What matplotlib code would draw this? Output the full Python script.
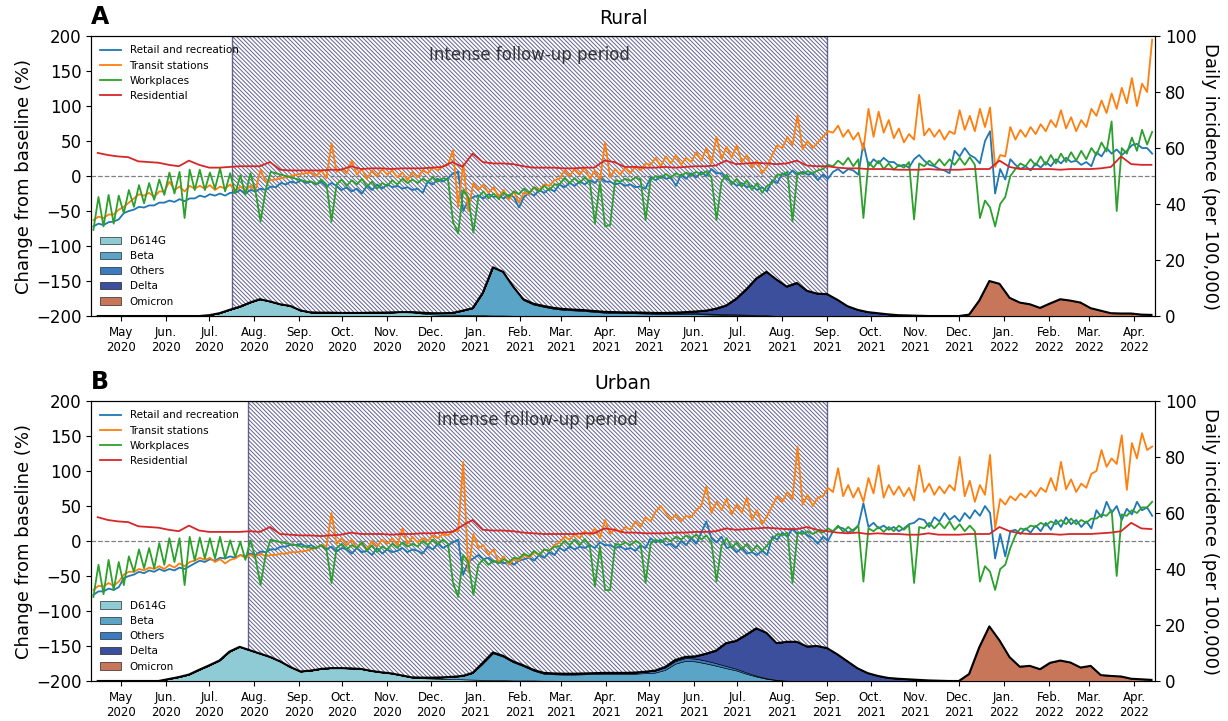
import numpy as np
import pandas as pd
import matplotlib
matplotlib.use("Agg")
import matplotlib.pyplot as plt
import matplotlib.dates as mdates
from matplotlib.ticker import FuncFormatter

# weekly samples starting mid-April 2020 (105 weeks); mobility has two readings per week
week_centers = pd.date_range("2020-04-15", periods=105, freq="7D")

# ---------------- Rural (A) mobility, change from baseline (%) ----------------
red_a = [33, 30, 28, 27, 21, 20, 19, 16, 14, 22, 16, 12, 12, 13, 14, 14, 14, 20, 9, 8,
         8, 8, 8, 9, 9, 14, 10, 11, 11, 10, 11, 11, 11, 12, 13, 20, 13, 32,
         20, 18, 18, 17, 14, 12, 12, 12, 11, 11, 12, 12, 22, 20,
         13, 13, 12, 12, 13, 12, 13, 14, 14, 15, 22, 17, 18, 19, 18, 17, 18, 22, 15, 14, 14,
         12, 11, 11, 10, 10, 10, 9, 9, 9, 10, 9, 9, 9, 10, 10, 10, 22,
         13, 10, 10, 10, 10, 9, 10, 10, 10, 11, 13, 28, 17, 16, 16]
green_a_1 = [-77, -72, -68, -53, -44, -39, -34, -27, -25, -60,
             -20, -20, -18, -22, -25, -27, -22, -20, 4, 0,
             -4, -8, -12, -12, -12, -14, -12, -15, -18, -14,
             -12, -10, -10, -8, -8, -5, -82, -30, -30, -32,
             -33, -30, -26, -24, -22, -20, -12, -10, -10, -9,
             -8, -70, -8, -7, -5, -5, -3, -2, 0, 1,
             2, -2, -8, -12, -15, -20, -24, -10, 2, -65,
             3, 4, 10, 14, 16, 14, -60, 12, 10, 9,
             12, -62, 14, 15, 15, 16, 16, 16, -35, -72,
             -30, 10, 14, 15, 16, 18, 20, 22, 24, 30,
             35, -50, 32, 36, 45]
green_a_2 = [-30, -27, -28, -20, -13, -10, -5, 5, 6, 9,
             9, 5, 11, 4, 1, 4, -65, 6, 2, -2,
             -6, -8, -5, -65, -5, -6, -4, -8, -10, -6,
             -4, -5, -4, -2, -3, -66, -20, -81, -22, -25,
             -24, -22, -18, -16, -14, -12, -3, -3, -2, -68,
             -72, -6, -4, -2, -63, 0, 3, 4, 5, 6,
             7, -63, 2, -4, -6, -10, -14, 2, 6, 5,
             7, 8, 16, 22, 26, 24, 20, 22, 18, 16,
             20, 18, 22, 24, 24, 26, 27, -60, -45, -40,
             0, 18, 24, 28, 30, 32, 34, 36, 40, 48,
             78, 40, 55, 66, 63]
blue_a_1 = [-72, -70, -65, -53, -48, -45, -42, -38, -37, -36,
            -32, -30, -28, -28, -24, -25, -22, -20, -16, -12,
            -10, -10, -12, -15, -14, -16, -18, -14, -12, -12,
            -14, -16, -18, -8, -4, -3, 6, -35, -28, -26,
            -28, -27, -45, -24, -20, -18, -12, -10, -8, -6,
            -2, -8, -10, -12, -15, -2, 0, -2, 2, 4,
            6, 10, 4, -8, -10, -14, -16, -6, 4, 8,
            6, 4, 2, 6, 4, 8, 47, 24, 26, 20,
            16, 24, 22, 14, 8, 36, 40, 26, 50, -25,
            -5, 16, 14, 18, 20, 24, 26, 22, 20, 34,
            40, 38, 36, 46, 40]
blue_a_2 = [-68, -66, -62, -50, -44, -42, -38, -35, -33, -32,
            -28, -26, -25, -24, -20, -20, -18, -15, -10, -8,
            -6, -8, -8, -10, -20, -22, -25, -20, -18, -16,
            -18, -20, -24, -12, -8, 4, -50, -30, -32, -30,
            -32, -30, -30, -28, -24, -22, -16, -14, -12, -10,
            -8, -12, -14, -16, -18, -6, -4, -14, -4, -2,
            0, 4, -4, -14, -16, -20, -22, -10, 0, 2,
            2, -6, -4, 10, 10, 2, 14, 18, 20, 14,
            12, 30, 16, 10, 4, 28, 30, 18, 64, 10,
            24, 10, 8, 12, 14, 18, 20, 16, 14, 28,
            32, 30, 44, 40, 32]
orange_a_1 = [-63, -60, -55, -44, -32, -28, -30, -22, -20, -22,
              -18, -18, -20, -18, -22, -20, -20, -8, -5, -2,
              2, 4, 0, -3, 6, 4, 2, -4, 0, 2,
              -2, -6, -2, 4, 8, 16, -44, -50, -20, -24,
              -30, -34, -38, -26, -20, -14, -4, 0, 2, -4,
              -6, -2, 2, 4, 8, 16, 14, 18, 16, 20,
              22, 18, 24, 26, 20, 12, 4, 30, 40, 44,
              38, 40, 56, 62, 56, 52, 37, 56, 62, 54,
              48, 52, 58, 56, 52, 60, 66, 64, 70, 13,
              28, 52, 56, 60, 64, 70, 68, 64, 70, 86,
              90, 96, 104, 100, 120]
orange_a_2 = [-58, -55, -48, -38, -26, -24, -22, -8, -15, -14,
              -14, -13, -15, -12, -15, -14, 9, -6, -3, 0,
              3, 5, 8, 47, 10, 22, 10, 8, 10, 8,
              5, 6, 8, 12, 14, 37, 18, -10, -12, -16,
              -20, -22, -24, -16, -12, -6, 8, 10, 12, 8,
              48, 10, 12, 14, 18, 26, 28, 30, 26, 34,
              40, 56, 42, 44, 30, 22, 14, 44, 56, 87,
              50, 48, 64, 72, 66, 62, 96, 92, 80, 68,
              60, 116, 68, 66, 64, 94, 86, 96, 98, 30,
              70, 66, 70, 74, 80, 94, 84, 80, 96, 108,
              118, 126, 140, 132, 195]

# ---------------- Urban (B) mobility ----------------
red_b = [34, 30, 28, 27, 21, 20, 19, 16, 14, 22, 15, 13, 13, 13, 13, 14, 13, 20, 10, 9,
         8, 8, 7, 8, 9, 12, 10, 10, 10, 9, 10, 10, 11, 11, 12, 13, 22, 30,
         16, 15, 15, 14, 12, 11, 10, 10, 10, 10, 11, 11, 18, 16,
         12, 12, 11, 11, 11, 12, 12, 13, 13, 14, 18, 16, 17, 18, 19, 18, 17, 17, 20, 16, 14,
         12, 11, 12, 10, 11, 10, 10, 9, 9, 11, 9, 9, 9, 10, 10, 10, 20,
         14, 11, 10, 10, 10, 9, 10, 10, 10, 11, 12, 14, 26, 18, 17]
green_b_1 = [-80, -76, -70, -63, -44, -39, -39, -34, -30, -63,
             -28, -25, -25, -25, -23, -27, -25, -20, 0, -3,
             -6, -8, -10, -12, -10, -12, -10, -14, -16, -12,
             -10, -8, -8, -6, -5, -4, -80, -30, -34, -34,
             -32, -30, -25, -22, -20, -14, -8, -6, -6, -8,
             -8, -70, -6, -6, -4, -4, -2, 0, 2, 4,
             2, -2, -6, -10, -12, -15, -14, 2, 8, -60,
             10, 10, 12, 14, 13, 14, -58, 14, 13, 14,
             16, -60, 18, 18, 18, 16, 14, 14, -36, -70,
             -34, 8, 16, 20, 22, 24, 24, 24, 26, 32,
             36, -50, 36, 40, 48]
green_b_2 = [-34, -27, -30, -22, -12, -10, -3, 4, 4, 6,
             5, 4, 6, 1, -1, 1, -63, 2, -2, -5,
             -8, -10, -6, -60, -4, -6, -2, -6, -8, -4,
             -2, -4, 0, 2, 2, -60, -20, -77, -26, -28,
             -26, -24, -18, -14, -12, -8, 0, 2, 3, -65,
             -70, -4, -2, 0, -60, 2, 4, 6, 8, 9,
             8, -58, 4, -2, -4, -6, -6, 10, 12, 12,
             14, 14, 18, 22, 20, 22, 18, 20, 20, 22,
             23, 20, 26, 26, 28, 24, 22, -58, -44, -40,
             -10, 18, 22, 26, 28, 30, 32, 30, 32, 38,
             44, 38, 44, 48, 56]
blue_b_1 = [-77, -72, -70, -53, -48, -46, -44, -43, -42, -40,
            -32, -30, -28, -25, -24, -22, -20, -16, -12, -8,
            -6, -8, -10, -12, -15, -12, -10, -14, -10, -12,
            -14, -16, -14, -8, -4, -6, 2, -30, -20, -24,
            -28, -30, -28, -24, -20, -16, -10, -8, -8, -6,
            -2, -6, -8, -10, -6, 4, 2, -4, 0, 4,
            12, 4, 6, -8, -10, -16, -14, 6, 12, 18,
            14, 4, 6, 14, 18, 16, 54, 26, 22, 20,
            18, 26, 30, 34, 40, 36, 40, 44, 50, -25,
            -22, 16, 18, 22, 26, 30, 34, 30, 28, 44,
            56, 50, 46, 56, 48]
blue_b_2 = [-72, -68, -66, -50, -44, -42, -40, -40, -38, -36,
            -28, -26, -24, -22, -20, -18, -15, -12, -8, -5,
            -4, -6, -6, -8, -10, -18, -16, -20, -18, -16,
            -10, -12, -18, -12, -10, -2, -48, -25, -26, -30,
            -32, -34, -26, -28, -24, -20, -14, -12, -10, -10,
            -6, -10, -12, -14, -10, -2, -6, -10, -6, -4,
            28, -2, -10, -16, -18, -20, -20, 2, 6, 10,
            8, -4, 0, 20, 12, 22, 20, 18, 16, 14,
            24, 32, 20, 28, 30, 28, 32, 36, 40, 10,
            14, 10, 12, 14, 16, 20, 24, 20, 18, 34,
            40, 30, 38, 44, 36]
orange_b_1 = [-70, -65, -64, -48, -44, -42, -40, -40, -38, -36,
              -28, -27, -30, -32, -25, -24, -22, -22, -20, -18,
              -16, -14, -10, -8, -4, -6, -10, -12, -8, -4,
              -6, -4, -2, 0, 4, 8, 14, -44, -10, -20,
              -30, -34, -28, -24, -20, -14, -2, 2, 4, 8,
              4, 10, 12, 16, 20, 28, 50, 30, 28, 34,
              50, 40, 44, 38, 40, 30, 24, 50, 56, 60,
              52, 50, 64, 70, 64, 62, 56, 68, 62, 66,
              64, 58, 70, 66, 68, 72, 64, 56, 66, 18,
              52, 58, 62, 64, 70, 72, 74, 70, 76, 100,
              106, 110, 73, 118, 130]
orange_b_2 = [-64, -60, -58, -44, -40, -38, -36, -34, -32, -30,
              -24, -24, -26, -27, -20, -20, -18, -20, -18, -16,
              -15, -12, -6, 40, 4, 2, -2, 0, 2, 4,
              18, 6, 4, 8, 10, 14, 113, 10, -6, -12,
              -22, -26, -20, -16, -12, -6, 6, 10, 14, 18,
              30, 18, 20, 28, 34, 42, 40, 38, 36, 44,
              78, 56, 60, 52, 62, 44, 36, 64, 70, 135,
              66, 62, 76, 104, 80, 76, 90, 108, 80, 78,
              76, 108, 82, 78, 80, 120, 86, 80, 123, 60,
              64, 68, 72, 76, 90, 113, 88, 82, 96, 130,
              118, 151, 140, 154, 135]

# ---------------- variant incidence (per 100,000), weekly ----------------
variant_names = ["D614G", "Beta", "Others", "Delta", "Omicron"]
variant_colors = ["#8ecbd5", "#5aa4c8", "#3b7cc0", "#3c4f9c", "#c8765a"]

d614g_a = ([0] * 11 + [0.3, 1.0, 2.2, 3.3, 4.8, 6.0, 5.2, 4.2, 3.6, 2.0, 1.3]
           + [1.2, 1.2, 1.1, 1.1, 1.1, 1.2, 1.2, 1.3, 1.4, 1.3]
           + [0.9, 0.6, 0.5, 0.5, 0.4, 0.3, 0.3, 0.2, 0.2, 0.1, 0.1, 0.1, 0.1] + [0] * 60)
beta_a = ([0] * 31 + [0.1, 0.3, 0.4, 0.5, 0.6, 1.5, 2.5, 8.0, 17.2, 15.6, 10.4, 5.6, 4.0, 3.2,
                      2.6, 2.2, 2.0, 1.8, 1.5, 1.2, 1.1, 1.0, 1.0, 0.9, 0.8, 0.8, 0.8, 0.8,
                      0.7, 0.6, 0.5, 0.4, 0.3, 0.2, 0.1] + [0] * 39)
others_a = [0] * 42 + [0.3] * 25 + [0] * 38
delta_a = ([0] * 57 + [0.1, 0.3, 0.6, 1.0, 1.8, 3.0, 5.5, 9.0, 13.0, 15.5, 13.0, 10.5, 11.8,
                       9.0, 8.0, 7.8, 5.8, 3.5, 2.2, 1.4, 1.0, 0.6, 0.3, 0.2, 0.1] + [0] * 23)
omicron_a = [0] * 86 + [0.5, 5.5, 12.5, 11.5, 6.5, 4.8, 4.2, 2.9, 4.5, 6.0, 5.5, 4.8, 2.8,
                        1.9, 1.0, 0.9, 0.9, 0.5, 0.4]

d614g_b = ([0] * 7 + [0.7, 1.4, 2.3, 4.0, 5.6, 7.3, 10.5, 12.2, 11.0, 9.8, 8.6, 7.0, 5.0, 3.4,
                      3.7, 4.3, 4.6, 4.6, 4.5, 4.3, 3.6, 3.1, 2.7, 2.0, 1.2, 1.0, 0.9, 0.8,
                      0.7, 0.6, 0.5, 0.4, 0.3, 0.3, 0.2, 0.2, 0.2, 0.1, 0.1] + [0] * 59)
beta_b = ([0] * 31 + [0.1, 0.2, 0.3, 0.5, 0.8, 1.2, 2.4, 5.8, 9.6, 8.4, 6.5, 5.1, 3.5, 2.5,
                      2.3, 2.3, 2.3, 2.4, 2.5, 2.6, 2.6, 2.6, 2.6, 2.8, 3.0, 4.0, 6.2, 7.2,
                      7.0, 6.3, 5.5, 4.6, 3.8, 2.6, 1.6, 0.8, 0.3, 0.1] + [0] * 36)
others_b = ([0] * 38 + [0.3] * 15
            + [0.4, 0.5, 0.7, 0.8, 0.9, 1.0, 1.0, 1.0, 0.9, 0.8, 0.6, 0.5, 0.3, 0.2, 0.1] + [0] * 37)
delta_b = ([0] * 56 + [0.2, 0.4, 0.4, 0.8, 2.4, 4.4, 8.1, 9.9, 13.4, 16.9, 16.2, 13.1, 13.9,
                       14.0, 12.3, 12.5, 11.7, 9.5, 7.0, 4.5, 2.8, 1.8, 1.1, 0.8, 0.6, 0.4,
                       0.2, 0.1] + [0] * 21)
omicron_b = [0] * 86 + [2.5, 12.0, 19.5, 14.5, 8.5, 5.1, 5.4, 4.2, 6.5, 7.3, 6.6, 4.8, 5.4,
                        2.1, 1.8, 1.6, 0.8, 0.6, 0.4]

# two readings per week -> time axis
t_mob = np.empty(2 * len(week_centers), dtype="datetime64[ns]")
t_mob[0::2] = (week_centers - pd.Timedelta(days=3)).values
t_mob[1::2] = (week_centers + pd.Timedelta(hours=12)).values

plt.rcParams["hatch.linewidth"] = 0.75


def two_per_week(first, second):
    y = np.empty(2 * len(first))
    y[0::2] = first
    y[1::2] = second
    return y


def month_label(x, pos):
    d = mdates.num2date(x)
    m = d.strftime("%b")
    if m != "May":
        m += "."
    return f"{m}\n{d.year}"


def draw_panel(ax, title, letter, letter_y, follow_start, red, green, blue, orange, variants):
    span_start = pd.Timestamp(follow_start)
    span_end = pd.Timestamp("2021-09-01")
    ax.axvspan(span_start, span_end, facecolor="none", edgecolor="#2a2a6a",
               hatch="\\" * 8, lw=1, alpha=0.7, zorder=0)
    ax.axhline(0, color="grey", ls="--", lw=0.9, zorder=1)
    ax.text(span_start + (span_end - span_start) / 2, 173, "Intense follow-up period",
            ha="center", va="center", fontsize=12, color="#333333")

    h1, = ax.plot(t_mob, two_per_week(*blue), color="tab:blue", lw=1.3)
    h2, = ax.plot(t_mob, two_per_week(*orange), color="tab:orange", lw=1.3)
    h3, = ax.plot(t_mob, two_per_week(*green), color="tab:green", lw=1.3)
    h4, = ax.plot(week_centers, red, color="tab:red", lw=1.3)
    ax.legend([h1, h2, h3, h4],
              ["Retail and recreation", "Transit stations", "Workplaces", "Residential"],
              loc="upper left", frameon=False, fontsize=7.5)

    ax.set_ylim(-200, 200)
    ax.set_yticks(np.arange(-200, 201, 50))
    ax.set_xlim(pd.Timestamp("2020-04-10 08:00"), pd.Timestamp("2022-04-15 12:00"))
    ax.xaxis.set_major_locator(mdates.MonthLocator(bymonthday=1))
    ax.xaxis.set_major_formatter(FuncFormatter(month_label))
    ax.tick_params(axis="x", labelsize=8.5)
    ax.tick_params(axis="y", labelsize=12)
    ax.set_ylabel("Change from baseline (%)", fontsize=13, labelpad=2)
    ax.set_title(title, fontsize=13.5, pad=9)
    fig.text(0.074, letter_y, letter, fontsize=17, fontweight="bold", va="center")

    ax2 = ax.twinx()
    polys = ax2.stackplot(week_centers, *variants, colors=variant_colors,
                          edgecolor="black", linewidth=0.4)
    ax2.plot(week_centers, np.sum(np.array(variants), axis=0), color="black", lw=1.5)
    ax2.set_ylim(0, 100)
    ax2.set_yticks(np.arange(0, 101, 20))
    ax2.tick_params(axis="y", labelsize=12)
    ax2.set_ylabel("Daily incidence (per 100,000)", fontsize=13, rotation=270, labelpad=16)
    ax2.legend(polys, variant_names, loc="lower left", frameon=False, fontsize=7.5)


fig, axes = plt.subplots(2, 1, figsize=(12.28, 7.21), dpi=100)
fig.subplots_adjust(left=0.0741, right=0.9406, top=0.950, bottom=0.0555, hspace=0.3036)

draw_panel(axes[0], "Rural", "A", 0.976, "2020-07-17", red_a,
           (green_a_1, green_a_2), (blue_a_1, blue_a_2), (orange_a_1, orange_a_2),
           [d614g_a, beta_a, others_a, delta_a, omicron_a])
draw_panel(axes[1], "Urban", "B", 0.470, "2020-07-28", red_b,
           (green_b_1, green_b_2), (blue_b_1, blue_b_2), (orange_b_1, orange_b_2),
           [d614g_b, beta_b, others_b, delta_b, omicron_b])

fig.savefig("out.png", dpi=100)
